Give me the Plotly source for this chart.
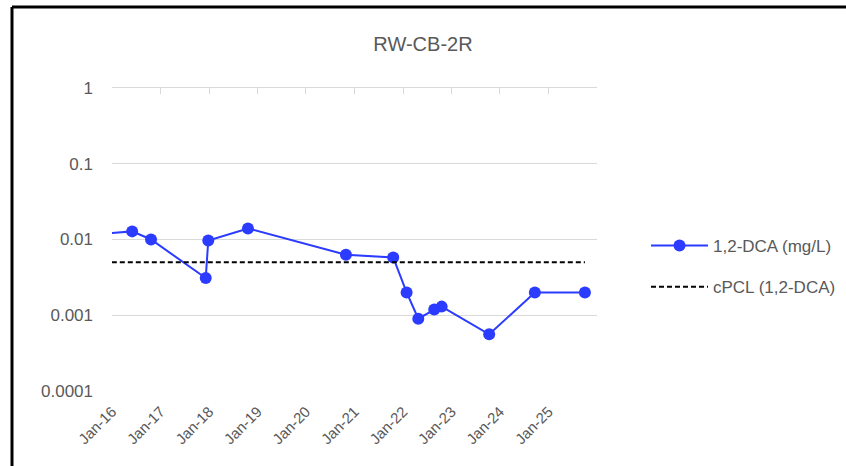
import plotly.graph_objects as go

# ---- data ----
sample_dates = ["2015-09-01", "2016-06-01", "2016-10-21", "2017-12-07", "2017-12-26",
                "2018-10-21", "2020-10-28", "2021-10-19", "2022-01-28", "2022-04-26",
                "2022-08-24", "2022-10-19", "2023-10-12", "2024-09-20", "2025-10-02"]
dca_values = [0.0117, 0.0128, 0.0100, 0.0031, 0.0097,
              0.0140, 0.0063, 0.0058, 0.0020, 0.00090,
              0.00119, 0.0013, 0.00056, 0.0020, 0.0020]
cpcl_dates = ["2015-09-01", "2025-10-02"]
cpcl_values = [0.005, 0.005]

year_ticks = ["2016-01-01", "2017-01-01", "2018-01-01", "2019-01-01", "2020-01-01",
              "2021-01-01", "2022-01-01", "2023-01-01", "2024-01-01", "2025-01-01"]
year_labels = ["Jan-16", "Jan-17", "Jan-18", "Jan-19", "Jan-20",
               "Jan-21", "Jan-22", "Jan-23", "Jan-24", "Jan-25"]
top_ticks = year_ticks + ["2026-01-01"]
y_ticks = [0.0001, 0.001, 0.01, 0.1, 1]
y_labels = ["0.0001", "0.001", "0.01", "0.1", "1"]

GREY_TXT = "#595959"
GRID = "#d9d9d9"
FONT = "Liberation Sans"

W, H = 846, 466
L, R, T, B = 112, 249, 88, 75
PW, PH = W - L - R, H - T - B


def px_x(p):
    return (p - L) / PW


def px_y(p):
    return (H - B - p) / PH


fig = go.Figure()
fig.add_trace(go.Scatter(
    x=sample_dates, y=dca_values, mode="lines+markers", name="1,2-DCA (mg/L)",
    line=dict(color="#2B3BFF", width=2),
    marker=dict(size=12, color="#2B3BFF"),
    legendgroup="a",
))
fig.add_trace(go.Scatter(
    x=cpcl_dates, y=cpcl_values, mode="lines", name="cPCL (1,2-DCA)",
    line=dict(color="black", width=2, dash="5px,3px"),
    legendgroup="b",
))
fig.add_trace(go.Scatter(x=[None], y=[None], xaxis="x2", yaxis="y",
                         showlegend=False, hoverinfo="skip"))

fig.update_layout(
    width=W, height=H,
    margin=dict(l=L, r=R, t=T, b=B, autoexpand=False),
    paper_bgcolor="white", plot_bgcolor="white",
    font=dict(family=FONT, color=GREY_TXT),
    title=dict(text="RW-CB-2R", x=0.5, xref="container", xanchor="center",
               y=1 - 44 / H, yref="container", yanchor="middle",
               font=dict(size=20, color=GREY_TXT, family=FONT)),
    xaxis=dict(type="date", range=["2016-01-01", "2026-01-01"],
               tickmode="array", tickvals=year_ticks, ticktext=year_labels,
               tickangle=-45, showgrid=False, showline=False, zeroline=False,
               ticks="", ticklabelstandoff=8, automargin=False,
               tickfont=dict(size=15, color=GREY_TXT)),
    xaxis2=dict(type="date", overlaying="x", matches="x", side="top", anchor="y",
                tickmode="array", tickvals=top_ticks, showticklabels=False,
                ticks="inside", ticklen=6, tickcolor=GRID, tickwidth=1,
                showline=True, linecolor=GRID, linewidth=1,
                showgrid=False, zeroline=False, automargin=False),
    yaxis=dict(type="log", range=[-4, 0], tickmode="array", tickvals=y_ticks,
               ticktext=y_labels, showgrid=True, gridcolor=GRID, gridwidth=1,
               zeroline=False, showline=False, ticks="", automargin=False,
               ticklabelstandoff=18, tickfont=dict(size=17, color=GREY_TXT)),
    legend=dict(x=646 / W, xref="container", xanchor="left",
                y=1 - 228 / H, yref="container", yanchor="top",
                bgcolor="rgba(0,0,0,0)", font=dict(size=17, color=GREY_TXT),
                tracegroupgap=16, itemwidth=57),
    showlegend=True,
)

# outer frame (left and top edges)
fig.add_shape(type="line", xref="paper", yref="paper",
              x0=px_x(12), x1=px_x(W + 20), y0=px_y(7), y1=px_y(7),
              line=dict(color="black", width=3))
fig.add_shape(type="line", xref="paper", yref="paper",
              x0=px_x(12), x1=px_x(12), y0=px_y(7), y1=px_y(H + 20),
              line=dict(color="black", width=3))

fig.write_html("out.html", config={"displayModeBar": False},
               post_script="document.body.style.margin='0';")
